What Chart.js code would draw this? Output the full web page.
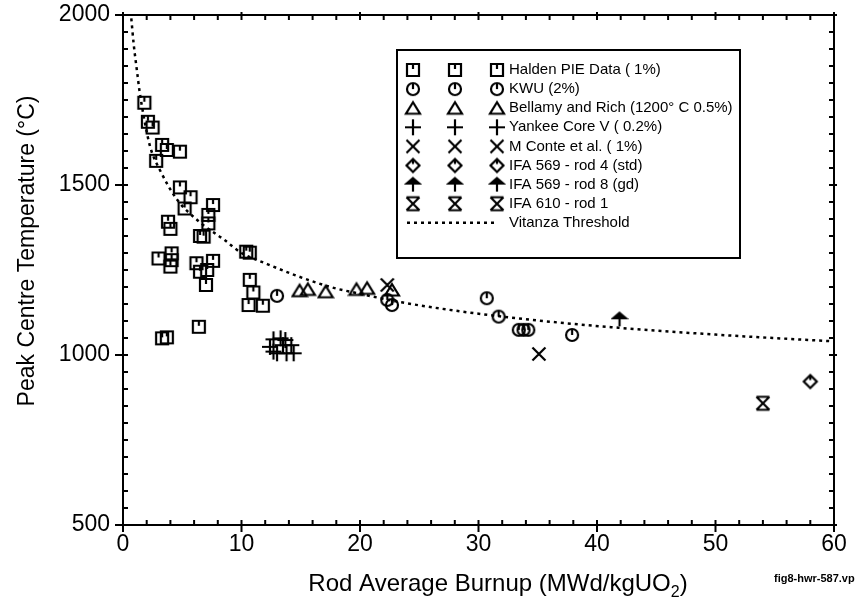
<!DOCTYPE html>
<html>
<head>
<meta charset="utf-8">
<title>Peak Centre Temperature vs Rod Average Burnup</title>
<script src="https://cdn.jsdelivr.net/npm/chart.js@4.4.1/dist/chart.umd.min.js"></script>
<style>
  body { margin: 0; background: #fff; }
  canvas { display: block; }
</style>
</head>
<body>
<canvas id="grafico" width="860" height="609"></canvas>
<script>
// --- DATA ---
const haldenX = [1.8, 2.1, 2.5, 3.3, 3.7, 4.8, 2.8, 4.8, 5.7, 5.2, 7.6, 7.2, 7.2, 3.8, 4.0, 6.5, 6.8, 10.4, 10.7, 3.0,
                 4.1, 4.1, 4.0, 6.2, 6.5, 7.6, 7.1, 10.7, 7.0, 11.0, 10.6, 11.8, 6.4, 3.7, 3.3];
const haldenY = [1742, 1686, 1669, 1618, 1603, 1598, 1571, 1493, 1464, 1431, 1441, 1412, 1387, 1392, 1371, 1350, 1348, 1304, 1301, 1284,
                 1299, 1279, 1260, 1270, 1245, 1277, 1250, 1221, 1206, 1184, 1147, 1145, 1083, 1052, 1049];

const kwuX = [13.0, 22.3, 22.7, 30.7, 31.7, 33.4, 33.8, 34.2, 37.9];
const kwuY = [1174, 1162, 1147, 1167, 1113, 1074, 1074, 1074, 1059];

const bellamyX = [14.9, 15.6, 17.1, 19.7, 20.6, 22.7];
const bellamyY = [1189, 1193, 1186, 1193, 1196, 1191];

const yankeeX = [12.7, 13.3, 13.7, 12.4, 13.5, 14.2, 13.0, 13.8, 14.4, 12.7];
const yankeeY = [1046, 1049, 1044, 1024, 1029, 1029, 1005, 1005, 1005, 1010];

const conteX = [22.3, 35.1];
const conteY = [1206, 1003];

const ifa569r4X = [58.0];
const ifa569r4Y = [922];

const ifa569r8X = [41.9];
const ifa569r8Y = [1105];

const ifa610X = [54.0];
const ifa610Y = [858];

const vitanzaX = [0.7, 0.9, 1.2, 1.4, 2.1, 2.4, 3.1, 4.5, 6.5, 8.5, 10, 12, 14.5, 17.5, 20, 23.5, 27.5, 32, 36, 41.5, 50, 60];
const vitanzaY = [1990, 1915, 1830, 1775, 1640, 1600, 1545, 1460, 1390, 1340, 1300, 1270, 1235, 1200, 1180, 1155, 1133, 1113, 1098, 1081, 1060, 1040];

const xTicks = [0, 10, 20, 30, 40, 50, 60];
const yTicks = [500, 1000, 1500, 2000];

// --- SYMBOLS ---
function makeSymbol(draw) {
    const c = document.createElement('canvas');
    c.width = 18;
    c.height = 18;
    const g = c.getContext('2d');
    g.strokeStyle = '#000';
    g.fillStyle = '#000';
    g.lineWidth = 2.2;
    g.translate(9, 9);
    g.beginPath();
    draw(g);
    g.stroke();
    return c;
}

const symHalden = makeSymbol(g => {
    g.rect(-6, -6, 12, 12);
    g.moveTo(0, -6); g.lineTo(0, -1);
});
const symKwu = makeSymbol(g => {
    g.arc(0, 0, 6, 0, Math.PI * 2);
    g.moveTo(0, -6); g.lineTo(0, 0);
});
const symTriangle = makeSymbol(g => {
    g.moveTo(0, -6); g.lineTo(7, 5.5); g.lineTo(-7, 5.5); g.closePath();
});
const symPlus = makeSymbol(g => {
    g.moveTo(-8, 0); g.lineTo(8, 0);
    g.moveTo(0, -8); g.lineTo(0, 8);
});
const symCross = makeSymbol(g => {
    g.moveTo(-6.5, -6.5); g.lineTo(6.5, 6.5);
    g.moveTo(6.5, -6.5); g.lineTo(-6.5, 6.5);
});
const symDiamond = makeSymbol(g => {
    g.moveTo(0, -6.5); g.lineTo(6.5, 0); g.lineTo(0, 6.5); g.lineTo(-6.5, 0); g.closePath();
    g.moveTo(0, -6.5); g.lineTo(0, -1.5);
});
const symArrow = makeSymbol(g => {
    g.moveTo(0, -6.5); g.lineTo(6.5, -1); g.lineTo(-6.5, -1); g.closePath();
    g.fill();
    g.moveTo(0, -1); g.lineTo(0, 7);
});
const symHourglass = makeSymbol(g => {
    g.moveTo(-6.5, -6.5); g.lineTo(6.5, -6.5);
    g.moveTo(-6.5, 6.5); g.lineTo(6.5, 6.5);
    g.moveTo(-6.5, -6.5); g.lineTo(6.5, 6.5);
    g.moveTo(6.5, -6.5); g.lineTo(-6.5, 6.5);
});

function pontos(xs, ys) {
    return xs.map((x, i) => ({ x: x, y: ys[i] }));
}

function serie(label, xs, ys, sym) {
    return {
        label: label,
        data: pontos(xs, ys),
        pointStyle: sym,
        pointRadius: 6,
        borderColor: '#000',
        backgroundColor: '#000'
    };
}

const datasets = [
    serie('Halden PIE Data ( 1%)', haldenX, haldenY, symHalden),
    serie('KWU (2%)', kwuX, kwuY, symKwu),
    serie('Bellamy and Rich (1200° C 0.5%)', bellamyX, bellamyY, symTriangle),
    serie('Yankee Core V ( 0.2%)', yankeeX, yankeeY, symPlus),
    serie('M Conte et al. ( 1%)', conteX, conteY, symCross),
    serie('IFA 569 - rod 4 (std)', ifa569r4X, ifa569r4Y, symDiamond),
    serie('IFA 569 - rod 8 (gd)', ifa569r8X, ifa569r8Y, symArrow),
    serie('IFA 610 - rod 1', ifa610X, ifa610Y, symHourglass),
    {
        label: 'Vitanza Threshold',
        data: pontos(vitanzaX, vitanzaY),
        showLine: true,
        borderColor: '#000',
        borderWidth: 2.5,
        borderDash: [3, 4],
        pointRadius: 0,
        cubicInterpolationMode: 'monotone',
        fill: false
    }
];

// --- PLUGINS ---
// frame with inner minor ticks on all four sides
const molduraPlugin = {
    id: 'moldura',
    afterDraw(chart) {
        const { ctx, chartArea: a, scales: { x, y } } = chart;
        ctx.save();
        ctx.strokeStyle = '#000';
        ctx.lineWidth = 2;
        ctx.strokeRect(a.left, a.top, a.right - a.left, a.bottom - a.top);
        ctx.beginPath();
        for (let v = 0; v <= 60; v += 2) {
            const px = x.getPixelForValue(v);
            const major = xTicks.includes(v);
            ctx.moveTo(px, a.bottom + (major ? 7 : 0)); ctx.lineTo(px, a.bottom - 5);
            ctx.moveTo(px, a.top - (major ? 3 : 0)); ctx.lineTo(px, a.top + 5);
        }
        for (let v = 500; v <= 2000; v += 50) {
            const py = y.getPixelForValue(v);
            const major = yTicks.includes(v);
            ctx.moveTo(a.left - (major ? 8 : 0), py); ctx.lineTo(a.left + 5, py);
            ctx.moveTo(a.right + (major ? 3 : 0), py); ctx.lineTo(a.right - 5, py);
        }
        ctx.stroke();
        ctx.restore();
    }
};

// legend box with three symbols per row, as in the original
const legendaPlugin = {
    id: 'legendaCaixa',
    afterDraw(chart) {
        const ctx = chart.ctx;
        ctx.save();
        ctx.strokeStyle = '#000';
        ctx.lineWidth = 2;
        ctx.strokeRect(397, 50, 343, 208);
        ctx.font = '15px "Liberation Sans", Arial, sans-serif';
        ctx.fillStyle = '#000';
        ctx.textBaseline = 'middle';
        chart.data.datasets.forEach((ds, i) => {
            const yy = 70 + i * 19.1;
            if (ds.pointStyle instanceof HTMLCanvasElement) {
                [413, 455, 497].forEach(xx => {
                    ctx.drawImage(ds.pointStyle, xx - 9, yy - 9);
                });
            } else {
                ctx.save();
                ctx.lineWidth = ds.borderWidth;
                ctx.setLineDash(ds.borderDash);
                ctx.beginPath();
                ctx.moveTo(407, yy); ctx.lineTo(497, yy);
                ctx.stroke();
                ctx.restore();
            }
            ctx.fillText(ds.label, 509, yy);
        });
        ctx.restore();
    }
};

// axis titles (subscript on the x title) and the file tag
const titulosPlugin = {
    id: 'titulos',
    afterDraw(chart) {
        const ctx = chart.ctx;
        const fam = '"Liberation Sans", Arial, sans-serif';
        ctx.save();
        ctx.fillStyle = '#000';

        ctx.save();
        ctx.translate(28, 251);
        ctx.rotate(-Math.PI / 2);
        ctx.font = '23px ' + fam;
        ctx.textAlign = 'center';
        ctx.textBaseline = 'middle';
        ctx.fillText('Peak Centre Temperature (°C)', 0, 0);
        ctx.restore();

        const parte1 = 'Rod Average Burnup (MWd/kgUO';
        const parte3 = ')';
        ctx.font = '24px ' + fam;
        const w1 = ctx.measureText(parte1).width;
        const w3 = ctx.measureText(parte3).width;
        ctx.font = '16px ' + fam;
        const w2 = ctx.measureText('2').width;
        let xx = 498 - (w1 + w2 + w3) / 2;
        const base = 591;
        ctx.textBaseline = 'alphabetic';
        ctx.font = '24px ' + fam;
        ctx.fillText(parte1, xx, base);
        xx += w1;
        ctx.font = '16px ' + fam;
        ctx.fillText('2', xx, base + 6);
        xx += w2;
        ctx.font = '24px ' + fam;
        ctx.fillText(parte3, xx, base);

        ctx.font = 'bold 11px ' + fam;
        ctx.fillText('fig8-hwr-587.vp', 774, 582);
        ctx.restore();
    }
};

// --- CHART ---
Chart.defaults.font.family = '"Liberation Sans", Arial, sans-serif';
Chart.defaults.color = '#000';

const grafico = new Chart(document.getElementById('grafico'), {
    type: 'scatter',
    data: { datasets: datasets },
    options: {
        responsive: false,
        animation: false,
        layout: { padding: { top: 15, right: 26, left: 0, bottom: 0 } },
        plugins: {
            legend: { display: false },
            tooltip: { enabled: false }
        },
        scales: {
            x: {
                type: 'linear',
                min: 0,
                max: 60,
                grid: { display: false, drawTicks: false },
                border: { display: false },
                ticks: { stepSize: 10, padding: 6, color: '#000', font: { size: 23 }, callback: v => String(v) },
                afterFit(s) {
                    s.height = 84;
                    s.paddingLeft = 0;
                    s.paddingRight = 0;
                }
            },
            y: {
                type: 'linear',
                min: 500,
                max: 2000,
                grid: { display: false, drawTicks: false },
                border: { display: false },
                ticks: { stepSize: 500, padding: 13, color: '#000', font: { size: 23 }, callback: v => String(v) },
                afterFit(s) {
                    s.width = 123;
                    s.paddingTop = 0;
                    s.paddingBottom = 0;
                }
            }
        }
    },
    plugins: [molduraPlugin, legendaPlugin, titulosPlugin]
});
</script>
</body>
</html>
